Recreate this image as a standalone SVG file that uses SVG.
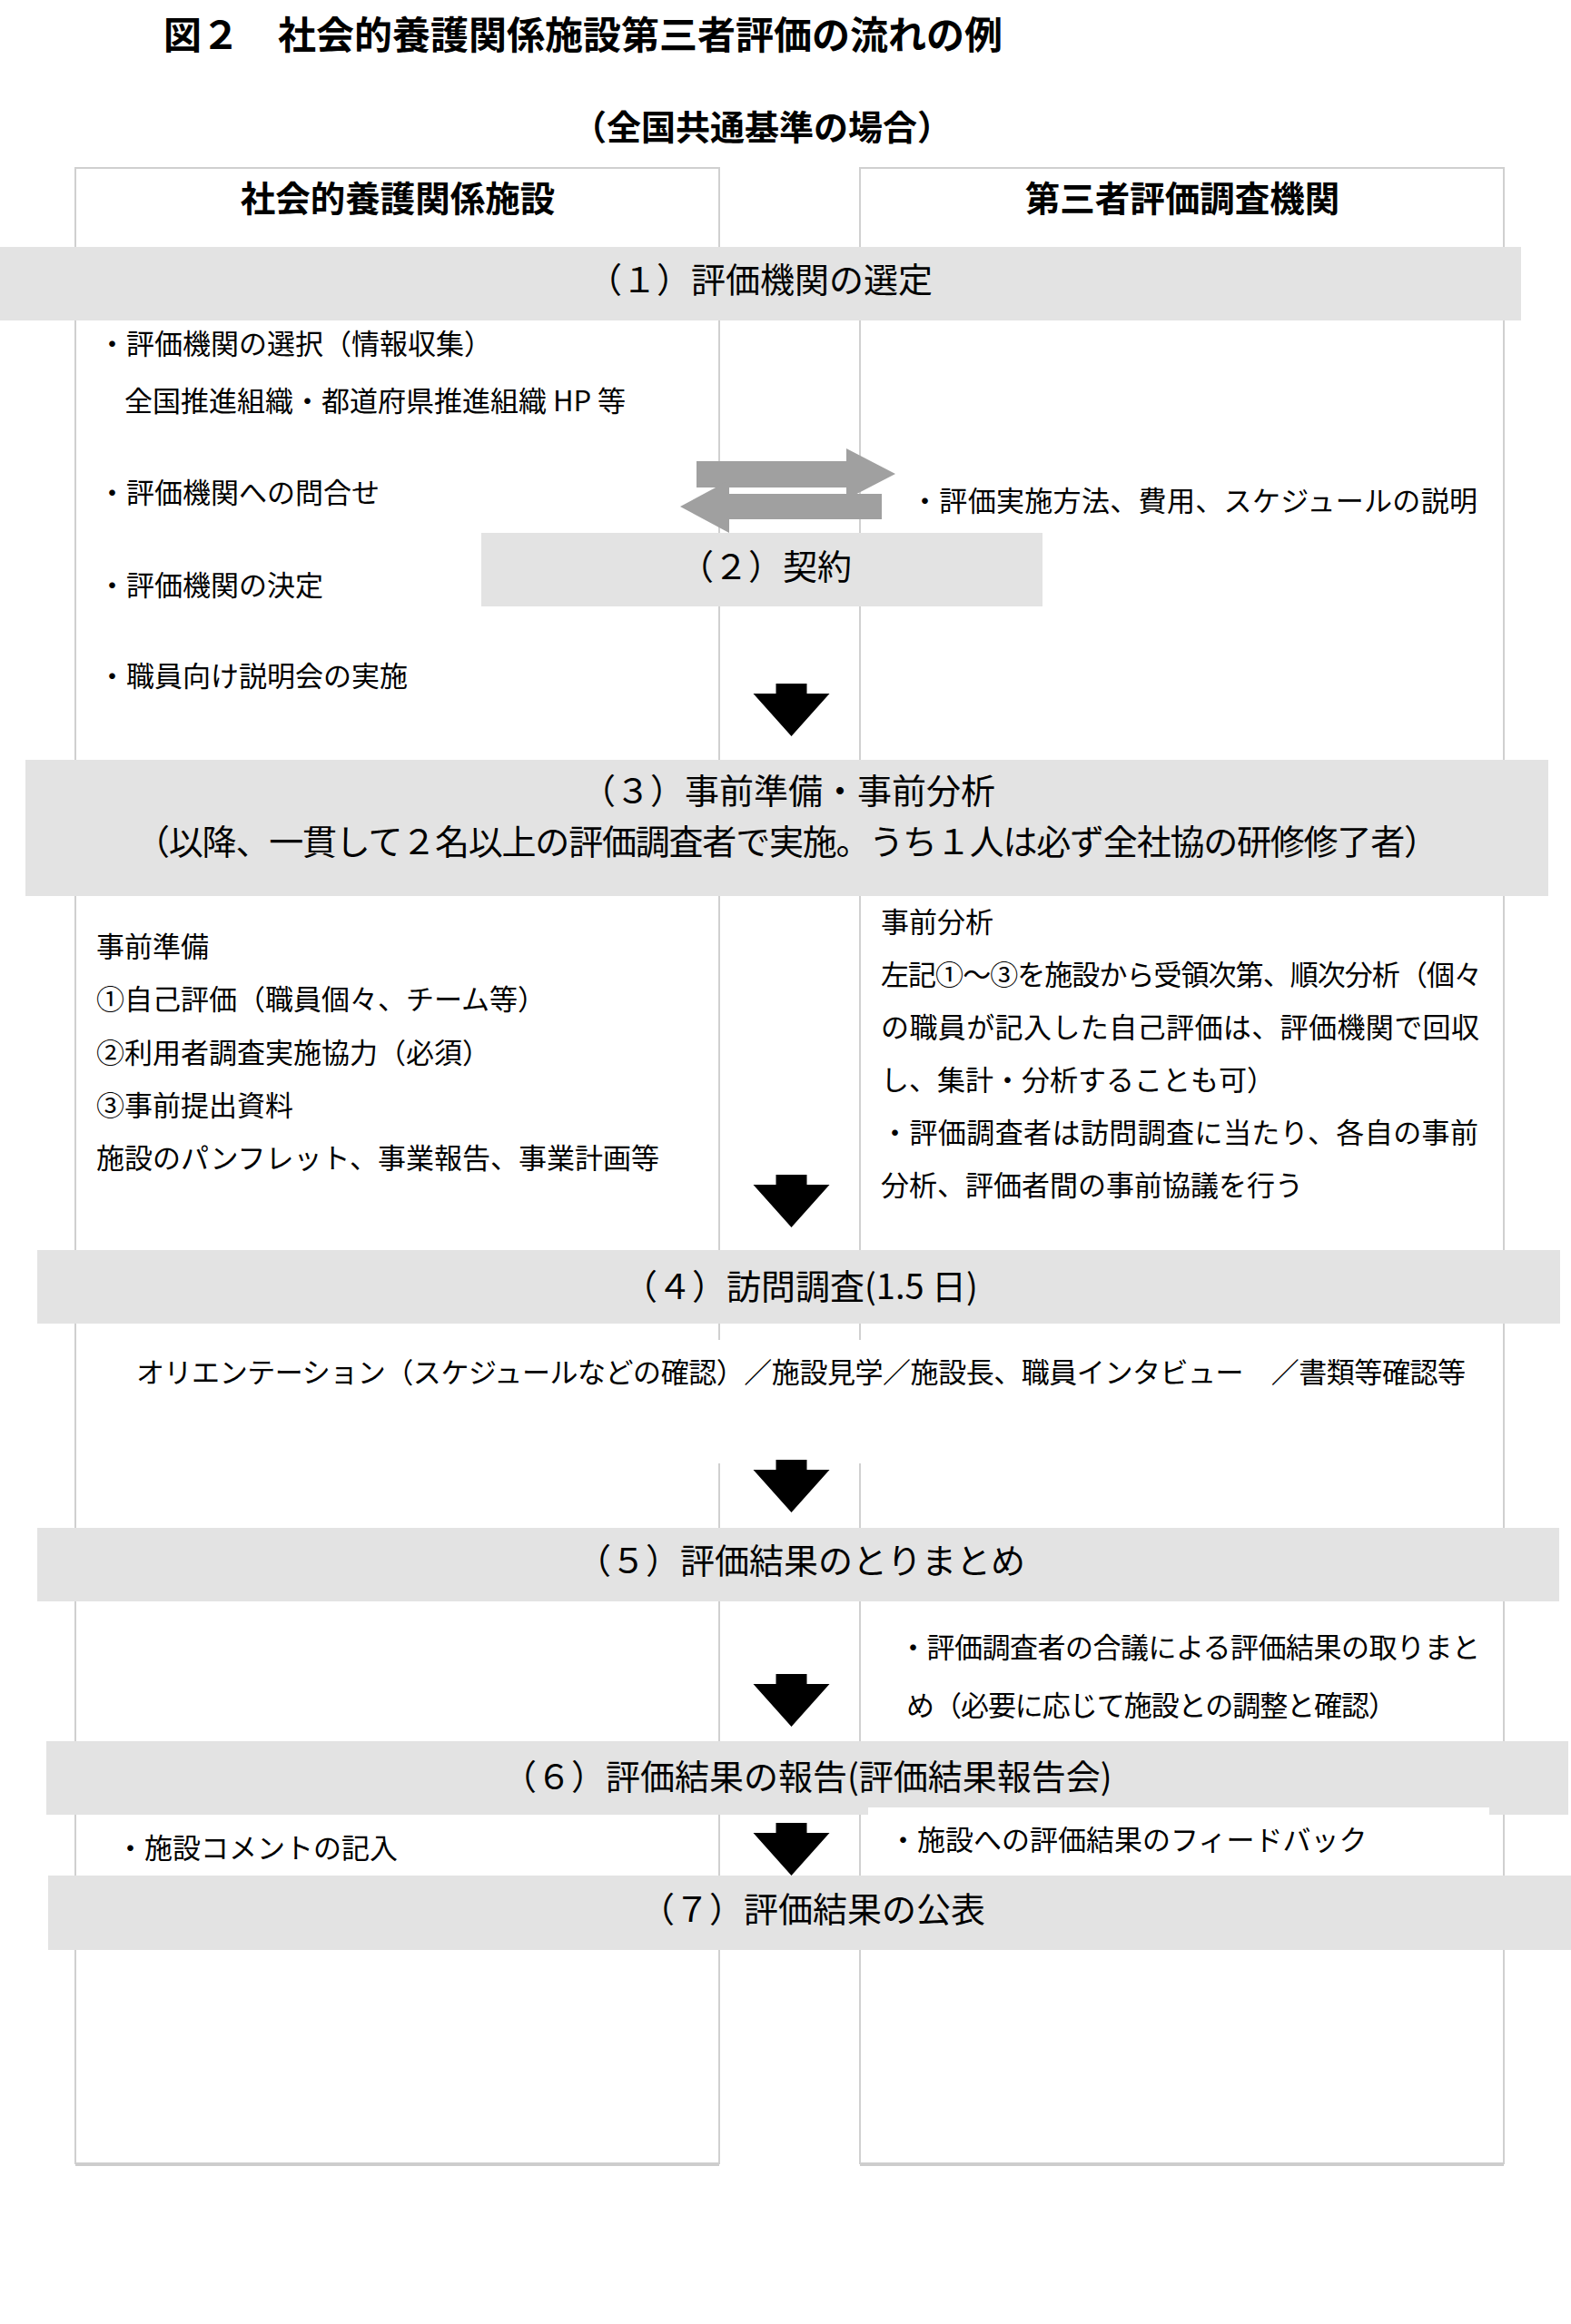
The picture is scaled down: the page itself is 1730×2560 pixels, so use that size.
<svg xmlns="http://www.w3.org/2000/svg" width="1730" height="2560" viewBox="0 0 1730 2560">
<defs>
<style>
text{font-family:"Noto Sans CJK JP","Noto Sans CJK SC",sans-serif;fill:#000;dominant-baseline:central}
.title{font-size:42px;font-weight:bold}
.sub{font-size:38px;font-weight:bold}
.hdr{font-size:38.5px;font-weight:bold;text-anchor:middle}
.ban{font-size:38px}
.body{font-size:31px}
.col{fill:#fff;stroke:#d0d0d0;stroke-width:2}
.shadow{stroke:#cdcdcd;stroke-width:3}
.band{fill:#e3e3e3}
.wh{fill:#fff}
.garrow{fill:#a0a0a0}
.barrow{fill:#000}
</style>
<path id="down" d="M-17,0 H17 V11 H42 L0,58 L-42,11 H-17 Z"/>
</defs>
<rect width="1730" height="2560" fill="#fff"/>

<g id="title">
<text class="title" x="180" y="35">図２　社会的養護関係施設第三者評価の流れの例</text>
<text class="sub" x="630" y="137">（全国共通基準の場合）</text>
</g>

<g id="col-facility">
<rect class="col" x="83" y="185" width="709" height="2198"/>
<line class="shadow" x1="83" y1="2384.5" x2="792" y2="2384.5"/>
<text class="hdr" x="438" y="216">社会的養護関係施設</text>
</g>
<g id="col-agency">
<rect class="col" x="947" y="185" width="709" height="2198"/>
<line class="shadow" x1="947" y1="2384.5" x2="1656" y2="2384.5"/>
<text class="hdr" x="1302" y="216">第三者評価調査機関</text>
</g>

<g id="step1">
<rect class="band" x="0" y="272" width="1675" height="81"/>
<text class="ban" x="647" y="305">（１）評価機関の選定</text>
</g>
<g id="step1-facility">
<text class="body" x="108" y="376">・評価機関の選択（情報収集）</text>
<text class="body" x="137" y="439">全国推進組織・都道府県推進組織 HP 等</text>
<text class="body" x="108" y="540">・評価機関への問合せ</text>
<text class="body" x="108" y="642">・評価機関の決定</text>
<text class="body" x="108" y="742">・職員向け説明会の実施</text>
</g>
<g id="step1-agency">
<text class="body" x="1003" y="549" textLength="624" lengthAdjust="spacing">・評価実施方法、費用、スケジュールの説明</text>
</g>

<g id="step2">
<rect class="band" x="530" y="587" width="618" height="81"/>
<text class="ban" x="748" y="621">（２）契約</text>
</g>

<g id="step3">
<rect class="band" x="28" y="837" width="1677" height="150"/>
<text class="ban" x="640" y="868">（３）事前準備・事前分析</text>
<text class="ban" x="149" y="924" textLength="1435" lengthAdjust="spacing">（以降、一貫して２名以上の評価調査者で実施。うち１人は必ず全社協の研修修了者）</text>
</g>
<g id="step3-facility">
<text class="body" x="106" y="1040">事前準備</text>
<text class="body" x="106" y="1098">①自己評価（職員個々、チーム等）</text>
<text class="body" x="106" y="1157">②利用者調査実施協力（必須）</text>
<text class="body" x="106" y="1215">③事前提出資料</text>
<text class="body" x="106" y="1273">施設のパンフレット、事業報告、事業計画等</text>
</g>
<g id="step3-agency">
<text class="body" x="970" y="1013">事前分析</text>
<text class="body" x="970" y="1071" textLength="662" lengthAdjust="spacing">左記①～③を施設から受領次第、順次分析（個々</text>
<text class="body" x="970" y="1129" textLength="659" lengthAdjust="spacing">の職員が記入した自己評価は、評価機関で回収</text>
<text class="body" x="970" y="1187">し、集計・分析することも可）</text>
<text class="body" x="970" y="1245" textLength="658" lengthAdjust="spacing">・評価調査者は訪問調査に当たり、各自の事前</text>
<text class="body" x="970" y="1303">分析、評価者間の事前協議を行う</text>
</g>

<g id="step4">
<rect class="band" x="41" y="1377" width="1677" height="81"/>
<text class="ban" x="686" y="1414">（４）訪問調査(1.5 日)</text>
</g>
<g id="step4-detail">
<rect class="wh" x="86" y="1476" width="1567" height="136"/>
<text class="body" x="150" y="1509" textLength="1464" lengthAdjust="spacing">オリエンテーション（スケジュールなどの確認）／施設見学／施設長、職員インタビュー　／書類等確認等</text>
</g>

<g id="step5">
<rect class="band" x="41" y="1683" width="1676" height="81"/>
<text class="ban" x="635" y="1716">（５）評価結果のとりまとめ</text>
</g>
<g id="step5-agency">
<text class="body" x="990" y="1812" textLength="640" lengthAdjust="spacing">・評価調査者の合議による評価結果の取りまと</text>
<text class="body" x="998" y="1876" textLength="540" lengthAdjust="spacing">め（必要に応じて施設との調整と確認）</text>
</g>

<g id="step6">
<rect class="band" x="51" y="1918" width="1676" height="81"/>
<text class="ban" x="553" y="1954">（６）評価結果の報告(評価結果報告会)</text>
</g>
<g id="step6-facility">
<text class="body" x="128" y="2033">・施設コメントの記入</text>
</g>
<g id="step6-agency">
<rect class="wh" x="956" y="1991" width="684" height="66"/>
<text class="body" x="979" y="2024">・施設への評価結果のフィードバック</text>
</g>

<g id="step7">
<rect class="band" x="53" y="2066" width="1677" height="82"/>
<text class="ban" x="705" y="2100">（７）評価結果の公表</text>
</g>

<g id="connectors">
<path class="garrow" d="M767,508 H932 V494 L986,522 L932,550 V537 H767 Z"/>
<path class="garrow" d="M971,544 V572 H803 V587 L749,558 L803,529 V544 Z"/>
<use href="#down" class="barrow" x="871.5" y="753"/>
<use href="#down" class="barrow" x="871.5" y="1294"/>
<use href="#down" class="barrow" x="871.5" y="1608"/>
<use href="#down" class="barrow" x="871.5" y="1844"/>
<use href="#down" class="barrow" x="871.5" y="2008"/>
</g>
</svg>
